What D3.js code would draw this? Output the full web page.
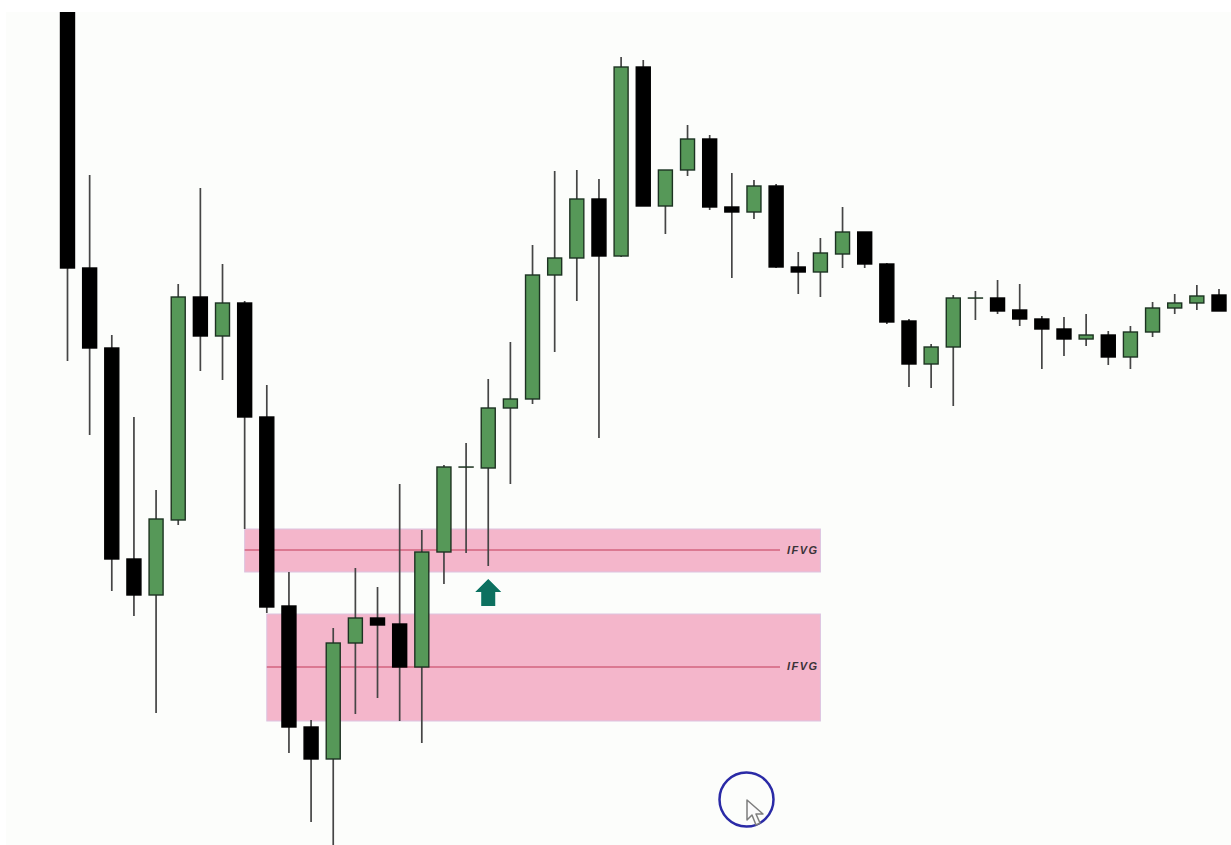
<!DOCTYPE html>
<html><head><meta charset="utf-8">
<style>html,body{margin:0;padding:0;background:#fff}svg{display:block}</style>
<script src="https://cdn.jsdelivr.net/npm/d3@7"></script>
</head><body><svg id="c" width="1231" height="845"></svg>
<script>
const opens =[845,577,497,286,250,325,548,509,542,428,239,118,86,202,227,221,178,293,378,377,437,446,570,587,646,589,778,639,675,706,638,633,659,578,573,591,613,581,524,481,498,547,547,535,526,516,506,510,488,513,537,542,550];
const closes=[577,497,286,250,326,548,509,542,428,238,118,86,202,227,220,178,293,378,378,437,446,570,587,646,589,778,639,675,706,638,633,659,578,573,592,613,581,523,481,498,547,547,534,526,516,506,510,488,513,537,542,549,534];
const highs =[845,670,510,428,355,561,657,581,544,460,273,125,217,277,258,361,315,380,402,466,503,600,674,675,666,788,785,675,720,710,672,665,661,593,607,638,613,582,526,501,550,554,565,561,529,528,531,514,519,543,551,560,556];
const lows  =[484,410,254,229,132,320,474,465,316,232,92,23,0,131,147,124,102,261,292,279,361,441,493,544,407,588,639,611,669,635,567,626,577,551,548,577,577,521,458,457,439,525,531,519,476,489,499,480,476,508,531,535,534];
const zoneStart=[8,9], zoneEnd=[34,34], zoneTop=[316,231], zoneBottom=[273,124], zoneMid=[295,178];
const zoneLabels=["IFVG","IFVG"];
const arrowIndex=19, arrowPrice=[266,239];

const svg=d3.select("#c");
const x=d3.scaleLinear().domain([0,52]).range([67.5,1219]);
const y=d3.scaleLinear().domain([0,845]).range([845,0]);
const bodyW=14;

svg.append("defs").append("clipPath").attr("id","plot").append("rect")
  .attr("x",6).attr("y",12).attr("width",1225).attr("height",833);
svg.append("defs").append("filter").attr("id","soft").append("feGaussianBlur").attr("stdDeviation",0.35);

svg.append("rect").attr("x",6).attr("y",12).attr("width",1225).attr("height",833).attr("fill","#fcfdfb");
const g=svg.append("g").attr("clip-path","url(#plot)");
const marks=g.append("g").attr("filter","url(#soft)");

const zones=d3.range(zoneStart.length);
marks.selectAll("rect.zone").data(zones).join("rect").attr("class","zone")
  .attr("x",i=>x(zoneStart[i])).attr("width",i=>x(zoneEnd[i])-x(zoneStart[i]))
  .attr("y",i=>y(zoneTop[i])).attr("height",i=>y(zoneBottom[i])-y(zoneTop[i]))
  .attr("fill","#f4b6cb").attr("stroke","#dcc4e0").attr("stroke-width",1);
marks.selectAll("line.mid").data(zones).join("line").attr("class","mid")
  .attr("x1",i=>x(zoneStart[i])).attr("x2",780)
  .attr("y1",i=>y(zoneMid[i])).attr("y2",i=>y(zoneMid[i]))
  .attr("stroke","#c23a58").attr("stroke-width",1);

const idx=d3.range(opens.length);
marks.selectAll("line.wick").data(idx).join("line").attr("class","wick")
  .attr("x1",i=>x(i)).attr("x2",i=>x(i))
  .attr("y1",i=>y(highs[i])).attr("y2",i=>y(lows[i]))
  .attr("stroke","#444").attr("stroke-width",1.7);
marks.selectAll("rect.body").data(idx).join("rect").attr("class","body")
  .attr("x",i=>x(i)-bodyW/2).attr("width",bodyW)
  .attr("y",i=>y(Math.max(opens[i],closes[i])))
  .attr("height",i=>Math.max(0.1,Math.abs(y(opens[i])-y(closes[i]))))
  .attr("fill",i=>closes[i]>=opens[i]?"#579858":"#000")
  .attr("stroke",i=>closes[i]>=opens[i]?"#1d3321":"#000").attr("stroke-width",1.4);

// entry arrow
const ax=x(arrowIndex), aT=y(arrowPrice[0]), aB=y(arrowPrice[1]);
marks.append("path").attr("fill","#07705f")
  .attr("d",d3.line()([[ax,aT],[ax+13,aT+13],[ax+7,aT+13],[ax+7,aB],[ax-7,aB],[ax-7,aT+13],[ax-13,aT+13]])+"Z");

svg.selectAll("text.lab").data(zones).join("text").attr("class","lab")
  .attr("x",787).attr("y",i=>y(zoneMid[i])+(i?3:4))
  .attr("font-family","'Liberation Sans',sans-serif").attr("font-size",11)
  .attr("font-weight","bold").attr("font-style","italic").attr("letter-spacing",1.5)
  .attr("fill","#3a3338").text(i=>zoneLabels[i]);

// cursor highlight
svg.append("circle").attr("cx",746.5).attr("cy",799.5).attr("r",27)
  .attr("fill","none").attr("stroke","#2a2aa6").attr("stroke-width",2.5);
svg.append("path").attr("transform","translate(747,800)")
  .attr("d","M0,0L0,20L5,15L9,25L13,23L9,14L16,14Z")
  .attr("fill","#fbfbfb").attr("stroke","#7d7d7d").attr("stroke-width",1.5).attr("stroke-linejoin","round");
</script></body></html>
